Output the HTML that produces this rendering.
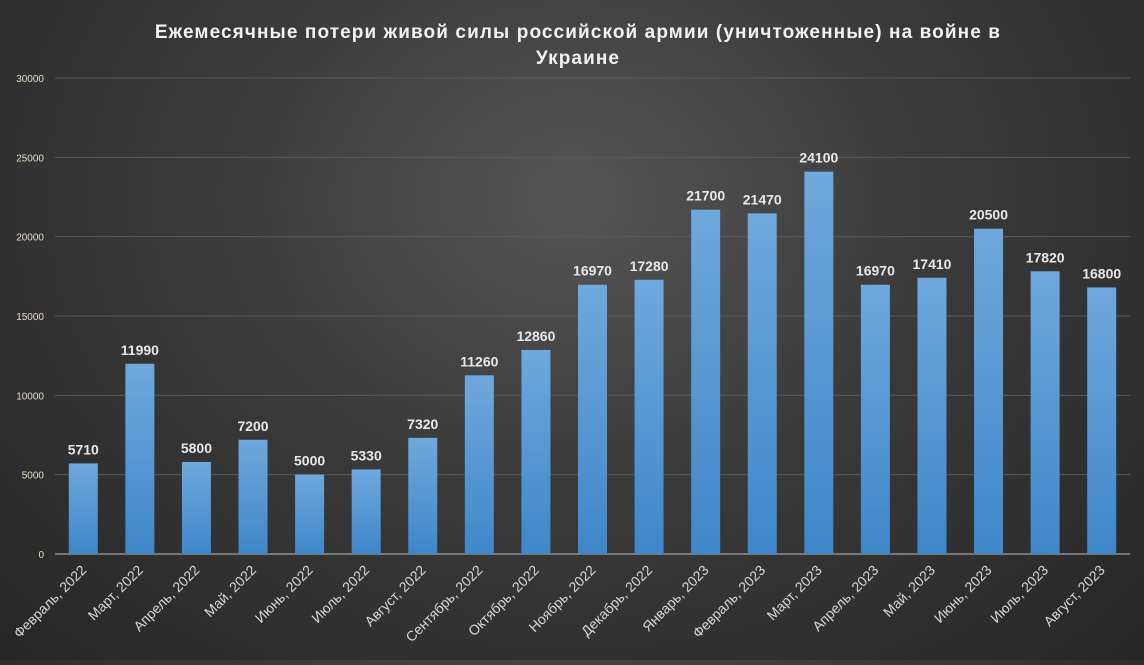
<!DOCTYPE html>
<html><head><meta charset="utf-8"><style>
html,body{margin:0;padding:0;}
body{width:1144px;height:660px;overflow:hidden;background:radial-gradient(ellipse at 50% 30%,#555 0%,#3a3a3a 45%,#262626 100%);font-family:"Liberation Sans","DejaVu Sans",sans-serif;}
</style></head><body>
<svg width="1144" height="660" xmlns="http://www.w3.org/2000/svg">
<defs><linearGradient id="bg" x1="0" y1="0" x2="0" y2="1"><stop offset="0" stop-color="#6fa8dc"/><stop offset="1" stop-color="#3f87c9"/></linearGradient></defs>
<text x="578" y="38" text-anchor="middle" fill="#f2f2f2" font-size="19" font-weight="bold" letter-spacing="1.1">Ежемесячные потери живой силы российской армии (уничтоженные) на войне в</text>
<text x="578" y="64" text-anchor="middle" fill="#f2f2f2" font-size="19" font-weight="bold" letter-spacing="1.1">Украине</text>
<g id="grid"></g><g id="bars"></g><g id="labels"></g>
</svg>
<script>
const categories=["Февраль, 2022","Март, 2022","Апрель, 2022","Май, 2022","Июнь, 2022","Июль, 2022","Август, 2022","Сентябрь, 2022","Октябрь, 2022","Ноябрь, 2022","Декабрь, 2022","Январь, 2023","Февраль, 2023","Март, 2023","Апрель, 2023","Май, 2023","Июнь, 2023","Июль, 2023","Август, 2023"];
const values=[5710,11990,5800,7200,5000,5330,7320,11260,12860,16970,17280,21700,21470,24100,16970,17410,20500,17820,16800];
const yTicks=[0,5000,10000,15000,20000,25000,30000];
const NS="http://www.w3.org/2000/svg";
const x0=55,x1=1130,y0=554,y1=78,yMax=30000;
const step=(x1-x0)/categories.length;
function y(v){return y0-(v/yMax)*(y0-y1);}
function xc(i){return x0+step*(i+0.5);}
function mk(t,a,p){const e=document.createElementNS(NS,t);for(const k in a)e.setAttribute(k,a[k]);p.appendChild(e);return e;}
const G=document.getElementById('grid'),B=document.getElementById('bars'),L=document.getElementById('labels');
yTicks.forEach(t=>{
 const l=mk('line',{x1:x0,x2:x1,y1:y(t),y2:y(t),stroke:t===0?'#bcbcbc':'#5a5a5a','stroke-width':1},G);
 
 
 const tx=mk('text',{x:44,y:y(t)+4,'text-anchor':'end',fill:'#e6dcc0','font-size':10},G);
 tx.textContent=t;
 
 
});
values.forEach((v,i)=>{
 const w=29;
 const r=mk('rect',{x:xc(i)-w/2,y:y(v),width:w,height:y0-y(v),fill:'url(#bg)'},B);
 
 
 const t=mk('text',{x:xc(i),y:y(v)-9,'text-anchor':'middle',fill:'#e8e8e8','font-size':14,'font-weight':'bold'},L);
 t.textContent=v;
 
 
 const c=mk('text',{x:xc(i)+4,y:571,'text-anchor':'end',fill:'#d8d8d8','font-size':14,transform:`rotate(-45 ${xc(i)+4} 571)`},L);
 c.textContent=categories[i];
 
 
});
</script>
</body></html>
